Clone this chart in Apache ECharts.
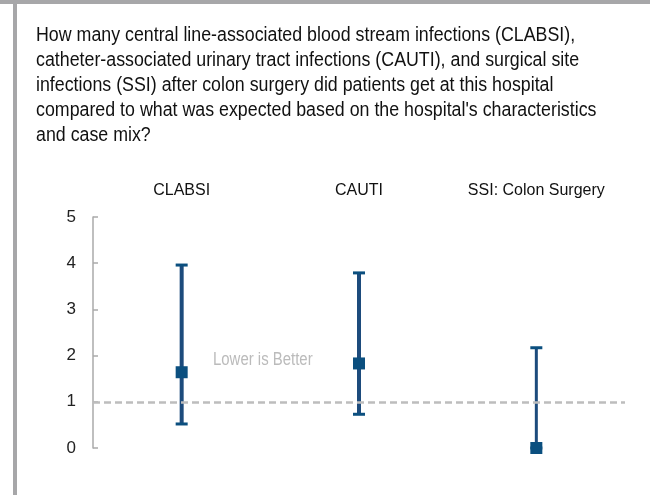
<!DOCTYPE html>
<html>
<head>
<meta charset="utf-8">
<script src="https://cdn.jsdelivr.net/npm/echarts@6/dist/echarts.min.js"></script>
<style>html,body{margin:0;padding:0;background:#fff;}#c{width:650px;height:501px;}</style>
</head>
<body>
<div id="c"></div>
<script>
const titleLines = [
  "How many central line-associated blood stream infections (CLABSI),",
  "catheter-associated urinary tract infections (CAUTI), and surgical site",
  "infections (SSI) after colon surgery did patients get at this hospital",
  "compared to what was expected based on the hospital's characteristics",
  "and case mix?"
];
const categories = ["CLABSI", "CAUTI", "SSI: Colon Surgery"];
const estimate = [1.64, 1.83, 0.0];
const lower = [0.52, 0.73, 0.0];
const upper = [3.96, 3.79, 2.17];
const yTicks = [0, 1, 2, 3, 4, 5];
const referenceValue = 1;
const noteText = "Lower is Better";

const chart = echarts.init(document.getElementById('c'), null, {renderer: 'canvas'});
const FONT = '"Liberation Sans", Arial, sans-serif';
const BAR = '#1d4b7c';
const PT = '#0b4f7f';

chart.setOption({
  animation: false,
  textStyle: {fontFamily: FONT},
  grid: {left: 93, right: 25, top: 217, bottom: 53},
  xAxis: {
    type: 'category', data: categories, position: 'top',
    axisLine: {show: false}, axisTick: {show: false},
    axisLabel: {color: '#111', fontSize: 16, margin: 18, fontFamily: FONT, interval: 0}
  },
  yAxis: {
    type: 'value', min: yTicks[0], max: yTicks[yTicks.length - 1], interval: 1,
    axisLine: {show: true, lineStyle: {color: '#aaa', width: 1.5}},
    axisTick: {show: true, inside: true, length: 5, lineStyle: {color: '#aaa', width: 1.5}},
    splitLine: {show: false},
    axisLabel: {color: '#222', fontSize: 17, margin: 17, fontFamily: FONT}
  },
  graphic: [
    {type: 'rect', shape: {x: 0, y: 0, width: 650, height: 4}, style: {fill: '#a7a7a9'}},
    {type: 'rect', shape: {x: 13, y: 0, width: 4, height: 495}, style: {fill: '#a7a7a9'}},
    {type: 'text', x: 36, y: 23, scaleX: 0.89, style: {
      text: titleLines.join('\n'), font: '20px ' + FONT, fill: '#111', lineHeight: 25
    }},
    {type: 'text', x: 213, y: 360, scaleX: 0.83, style: {
      text: noteText, font: '18px ' + FONT, fill: '#bbb', verticalAlign: 'middle'
    }}
  ],
  series: [
    {
      type: 'custom',
      data: categories.map((c, i) => [i, lower[i], upper[i]]),
      renderItem: function (params, api) {
        const x = api.coord([api.value(0), 0])[0];
        const lo = api.coord([api.value(0), api.value(1)])[1];
        const hi = api.coord([api.value(0), api.value(2)])[1];
        const w = params.dataIndex === 2 ? 3 : 4;
        const children = [
          {type: 'line', shape: {x1: x, y1: lo, x2: x, y2: hi}, style: {stroke: BAR, lineWidth: w}},
          {type: 'rect', shape: {x: x - 6, y: hi - 1.5, width: 12, height: 3}, style: {fill: PT}},
          {type: 'rect', shape: {x: x - 6, y: lo - 1.5, width: 12, height: 3}, style: {fill: PT}}
        ];
        return {type: 'group', children: children};
      },
      clip: false,
      z: 2
    },
    {
      type: 'scatter',
      data: categories.map((c, i) => [i, estimate[i]]),
      symbol: 'rect', symbolSize: 12,
      itemStyle: {color: PT, opacity: 1},
      clip: false,
      z: 3,
      markLine: {
        silent: true, symbol: 'none',
        label: {show: false},
        lineStyle: {color: '#bdbdbd', type: [7, 4], width: 2.5},
        data: [{yAxis: referenceValue}]
      }
    }
  ]
});
</script>
</body>
</html>
